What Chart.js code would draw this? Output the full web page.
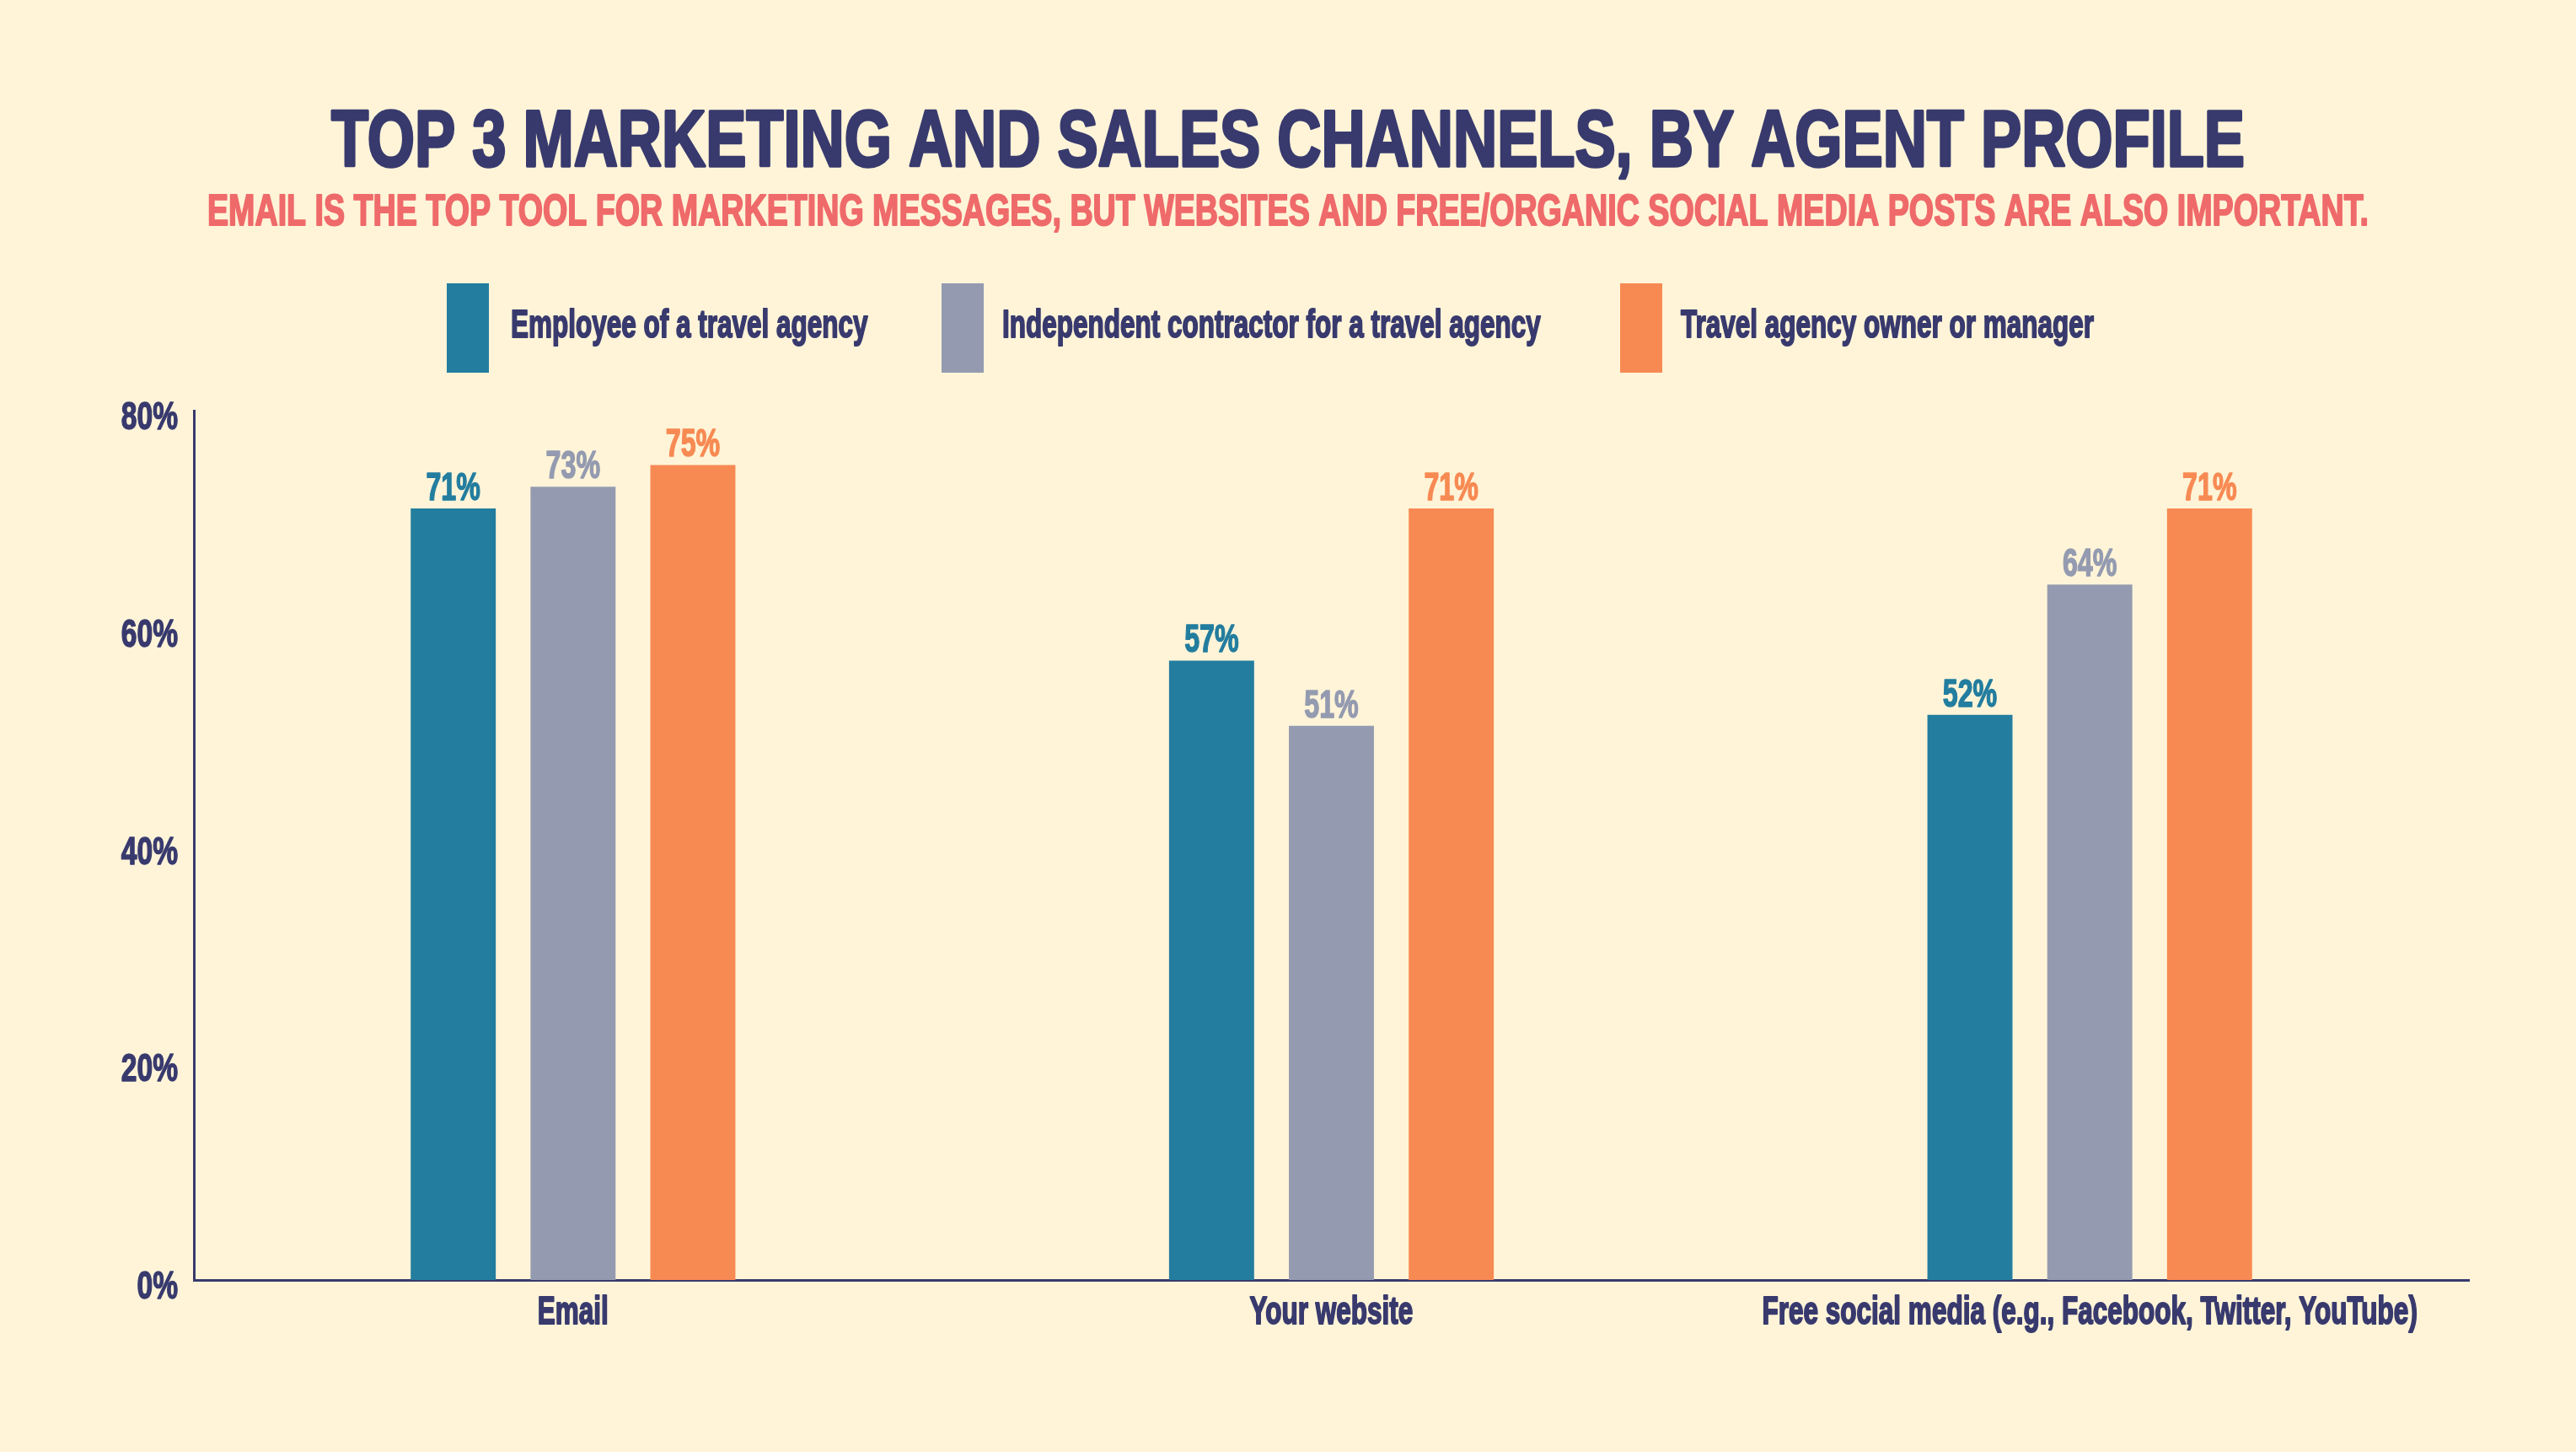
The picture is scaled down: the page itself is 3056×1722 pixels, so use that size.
<!DOCTYPE html>
<html>
<head>
<meta charset="utf-8">
<script src="https://cdn.jsdelivr.net/npm/chart.js@4.4.1/dist/chart.umd.min.js"></script>
<style>
  html, body { margin: 0; padding: 0; background: #fff4d8; }
  #wrap { width: 3056px; height: 1722px; }
</style>
</head>
<body>
<div id="wrap"><canvas id="c" width="3056" height="1722"></canvas></div>
<script>
// ---- data ----
const categories = ['Email', 'Your website', 'Free social media (e.g., Facebook, Twitter, YouTube)'];
const seriesNames = ['Employee of a travel agency', 'Independent contractor for a travel agency', 'Travel agency owner or manager'];
const employee = [71, 57, 52];
const contractor = [73, 51, 64];
const owner = [75, 71, 71];
const yTicks = [0, 20, 40, 60, 80];
const titleText = 'TOP 3 MARKETING AND SALES CHANNELS, BY AGENT PROFILE';
const subtitleText = 'EMAIL IS THE TOP TOOL FOR MARKETING MESSAGES, BUT WEBSITES AND FREE/ORGANIC SOCIAL MEDIA POSTS ARE ALSO IMPORTANT.';

// ---- style ----
const NAVY = '#383a6e';
const CORAL = '#ef6a6a';
const BG = '#fff4d8';
const colors = ['#237d9f', '#949bb0', '#f78a53'];
const FAM = '"Liberation Sans", Arial, sans-serif';
const SX = 0.68;

function cText(ctx, text, x, y, size, color, align, sx, fitWidth, stroke) {
  ctx.save();
  ctx.font = 'bold ' + size + 'px ' + FAM;
  ctx.fillStyle = color;
  ctx.strokeStyle = color;
  ctx.lineJoin = 'round';
  ctx.textBaseline = 'alphabetic';
  ctx.textAlign = align;
  let s = sx;
  if (fitWidth) {
    s = fitWidth / ctx.measureText(text).width;
  }
  ctx.translate(x, y);
  ctx.scale(s, 1);
  ctx.fillText(text, 0, 0);
  if (stroke) {
    ctx.lineWidth = stroke;
    ctx.strokeText(text, 0, 0);
  }
  ctx.restore();
}

const textPlugin = {
  id: 'textPlugin',
  beforeDraw(chart) {
    const ctx = chart.ctx;
    ctx.save();
    ctx.fillStyle = BG;
    ctx.fillRect(0, 0, chart.width, chart.height);
    ctx.restore();
  },
  afterDraw(chart) {
    const ctx = chart.ctx;
    // title + subtitle
    cText(ctx, titleText, 1528, 197, 95, NAVY, 'center', 1, 2270, 3.5);
    cText(ctx, subtitleText, 1528, 267, 51, CORAL, 'center', 1, 2564, 2);
    // legend
    const boxX = [530, 1117, 1922];
    const textX = [606, 1189, 1994];
    for (let i = 0; i < seriesNames.length; i++) {
      ctx.fillStyle = colors[i];
      ctx.fillRect(boxX[i], 336, 50, 106);
      cText(ctx, seriesNames[i], textX[i], 400, 47, NAVY, 'left', 0.67, null, 2);
    }
    // y tick labels
    const ys = chart.scales.y;
    yTicks.forEach(v => {
      const py = ys.getPixelForValue(v);
      cText(ctx, v + '%', 211, py + 22, 46, NAVY, 'right', 0.73, null, 1.5);
    });
    // x category labels
    const xs = chart.scales.x;
    categories.forEach((c, i) => {
      const px = xs.getPixelForTick(i);
      cText(ctx, c, px, 1570, 46, NAVY, 'center', 0.685, null, 2);
    });
    // data labels
    chart.data.datasets.forEach((ds, di) => {
      const meta = chart.getDatasetMeta(di);
      meta.data.forEach((el, i) => {
        cText(ctx, ds.data[i] + '%', el.x, el.y - 10, 46, colors[di], 'center', 0.70, null, 1.5);
      });
    });
  }
};

new Chart(document.getElementById('c'), {
  type: 'bar',
  data: {
    labels: categories,
    datasets: [
      { label: seriesNames[0], data: employee, backgroundColor: colors[0] },
      { label: seriesNames[1], data: contractor, backgroundColor: colors[1] },
      { label: seriesNames[2], data: owner, backgroundColor: colors[2] }
    ]
  },
  options: {
    responsive: false,
    devicePixelRatio: 1,
    animation: false,
    categoryPercentage: 0.474,
    barPercentage: 0.71,
    layout: { padding: { left: 230, right: 127, top: 487, bottom: 204 } },
    plugins: { legend: { display: false }, tooltip: { enabled: false }, title: { display: false } },
    scales: {
      x: {
        grid: { display: false },
        ticks: { display: false },
        border: { display: true, color: NAVY, width: 3 },
        afterFit(s) { s.height = 0; }
      },
      y: {
        min: 0, max: 80,
        ticks: { display: false, stepSize: 20 },
        grid: { display: false },
        border: { display: true, color: NAVY, width: 3 },
        afterFit(s) { s.width = 0; }
      }
    }
  },
  plugins: [textPlugin]
});
</script>
</body>
</html>
